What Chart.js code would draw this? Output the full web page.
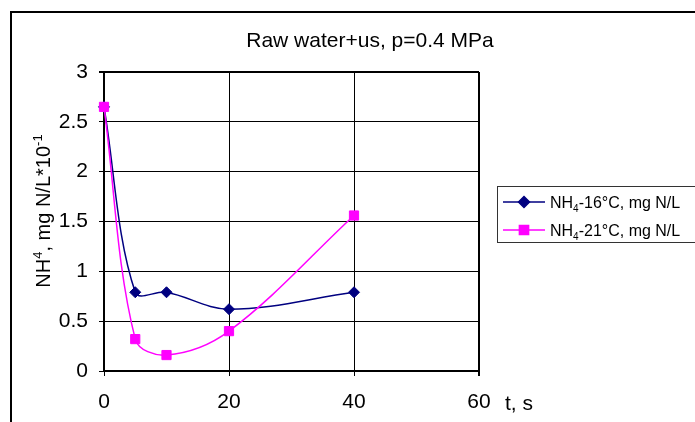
<!DOCTYPE html>
<html>
<head>
<meta charset="utf-8">
<script src="https://cdn.jsdelivr.net/npm/chart.js"></script>
<style>
    html, body { margin: 0; padding: 0; background: #fff; }
</style>
</head>
<body>
<canvas id="graf" width="695" height="422"></canvas>
<script>
// dados
const tempos = [0, 5, 10, 20, 40]
const nh4_16 = [2.65, 0.79, 0.79, 0.62, 0.79]
const nh4_21 = [2.65, 0.32, 0.16, 0.40, 1.56]
const xTicks = [0, 20, 40, 60]
const yTicks = [0, 0.5, 1, 1.5, 2, 2.5, 3]

const titulo = "Raw water+us, p=0.4 MPa"
const tituloX = "t, s"
// [texto, tipo] -> tipo: n normal, sup, sub
const tituloY = [["NH", "n"], ["4", "sup"], [", mg N/L*10", "n"], ["-1", "sup"]]
const legendas = [
    [["NH", "n"], ["4", "sub"], ["-16°C, mg N/L", "n"]],
    [["NH", "n"], ["4", "sub"], ["-21°C, mg N/L", "n"]]
]

const FONTE = "'Liberation Sans', Arial, sans-serif"
const cores = ['#000080', '#ff00ff']
const marcas = [{ pointStyle: 'rectRot', radius: 5.5 }, { pointStyle: 'rect', radius: 6.5 }]

function pontos(xs, ys) {
    return xs.map((x, i) => ({ x: x, y: ys[i] }))
}

function larguraRica(ctx, partes, tam) {
    let w = 0
    partes.forEach(p => {
        ctx.font = (p[1] === 'n' ? tam : Math.round(tam * 0.65)) + 'px ' + FONTE
        w += ctx.measureText(p[0]).width
    })
    return w
}

function desenhaRico(ctx, partes, x, y, tam) {
    let cx = x
    partes.forEach(p => {
        let dy = 0
        if (p[1] === 'n') {
            ctx.font = tam + 'px ' + FONTE
        } else {
            ctx.font = Math.round(tam * 0.65) + 'px ' + FONTE
            dy = p[1] === 'sup' ? -tam * 0.42 : tam * 0.22
        }
        ctx.fillText(p[0], cx, y + dy)
        cx += ctx.measureText(p[0]).width
    })
}

const extras = {
    id: 'extras',
    afterDraw(chart) {
        const ctx = chart.ctx
        ctx.save()

        // moldura externa
        ctx.strokeStyle = '#000'
        ctx.lineWidth = 2
        ctx.beginPath()
        ctx.moveTo(11, 430)
        ctx.lineTo(11, 12)
        ctx.lineTo(700, 12)
        ctx.stroke()

        ctx.fillStyle = '#000'
        ctx.textBaseline = 'alphabetic'

        // titulo
        ctx.font = '21px ' + FONTE
        ctx.textAlign = 'center'
        ctx.fillText(titulo, 370, 47)

        // titulo eixo x
        ctx.textAlign = 'left'
        ctx.fillText(tituloX, 505, 410)

        // titulo eixo y (girado)
        ctx.save()
        ctx.translate(50, 211)
        ctx.rotate(-Math.PI / 2)
        const wy = larguraRica(ctx, tituloY, 20)
        desenhaRico(ctx, tituloY, -wy / 2, 0, 20)
        ctx.restore()

        // legenda
        ctx.strokeStyle = '#333'
        ctx.lineWidth = 1
        ctx.strokeRect(497.5, 186.5, 220, 56)
        legendas.forEach((leg, i) => {
            const y = 202 + i * 28
            ctx.strokeStyle = cores[i]
            ctx.fillStyle = cores[i]
            ctx.lineWidth = 1.5
            ctx.beginPath()
            ctx.moveTo(503, y)
            ctx.lineTo(545, y)
            ctx.stroke()
            Chart.helpers.drawPoint(ctx, {
                pointStyle: marcas[i].pointStyle,
                radius: marcas[i].radius,
                rotation: 0,
                borderWidth: 1
            }, 524, y)
            ctx.fillStyle = '#000'
            desenhaRico(ctx, leg, 550, y + 6, 16)
        })

        ctx.restore()
    }
}

function criarGraf() {
    const ctx = document.getElementById('graf').getContext('2d')

    new Chart(ctx, {
        type: 'line',
        data: {
            datasets: [
                {
                    label: "NH4-16°C, mg N/L",
                    data: pontos(tempos, nh4_16),
                    borderColor: cores[0],
                    backgroundColor: cores[0],
                    borderWidth: 1.5,
                    pointStyle: marcas[0].pointStyle,
                    pointRadius: marcas[0].radius,
                    pointBorderWidth: 1,
                    tension: 0.35,
                    clip: false,
                    order: 2
                },
                {
                    label: "NH4-21°C, mg N/L",
                    data: pontos(tempos, nh4_21),
                    borderColor: cores[1],
                    backgroundColor: cores[1],
                    borderWidth: 1.5,
                    pointStyle: marcas[1].pointStyle,
                    pointRadius: marcas[1].radius,
                    pointBorderWidth: 1,
                    tension: 0.35,
                    clip: false,
                    order: 1
                }
            ]
        },
        options: {
            responsive: false,
            animation: false,
            layout: { padding: { left: 0, top: 72, right: 216, bottom: 0 } },
            plugins: {
                legend: { display: false },
                title: { display: false },
                tooltip: { enabled: false }
            },
            scales: {
                x: {
                    type: 'linear',
                    min: xTicks[0],
                    max: xTicks[xTicks.length - 1],
                    afterBuildTicks: s => { s.ticks = xTicks.map(v => ({ value: v })) },
                    afterFit: s => { s.height = 51 },
                    ticks: {
                        color: '#000',
                        padding: 14,
                        maxRotation: 0,
                        callback: v => String(v),
                        font: { family: FONTE, size: 21 }
                    },
                    grid: {
                        color: '#000',
                        lineWidth: c => (c.tick && c.tick.value === 60 ? 2 : 1),
                        tickLength: 5
                    },
                    border: { color: '#000', width: 2 }
                },
                y: {
                    min: yTicks[0],
                    max: yTicks[yTicks.length - 1],
                    afterBuildTicks: s => { s.ticks = yTicks.map(v => ({ value: v })) },
                    afterFit: s => { s.width = 104 },
                    ticks: {
                        color: '#000',
                        padding: 11,
                        callback: v => String(v),
                        font: { family: FONTE, size: 21 }
                    },
                    grid: {
                        color: '#000',
                        lineWidth: c => (c.tick && c.tick.value === 3 ? 2 : 1),
                        tickLength: 5
                    },
                    border: { color: '#000', width: 2 }
                }
            }
        },
        plugins: [extras]
    })
}

criarGraf()
</script>
</body>
</html>
